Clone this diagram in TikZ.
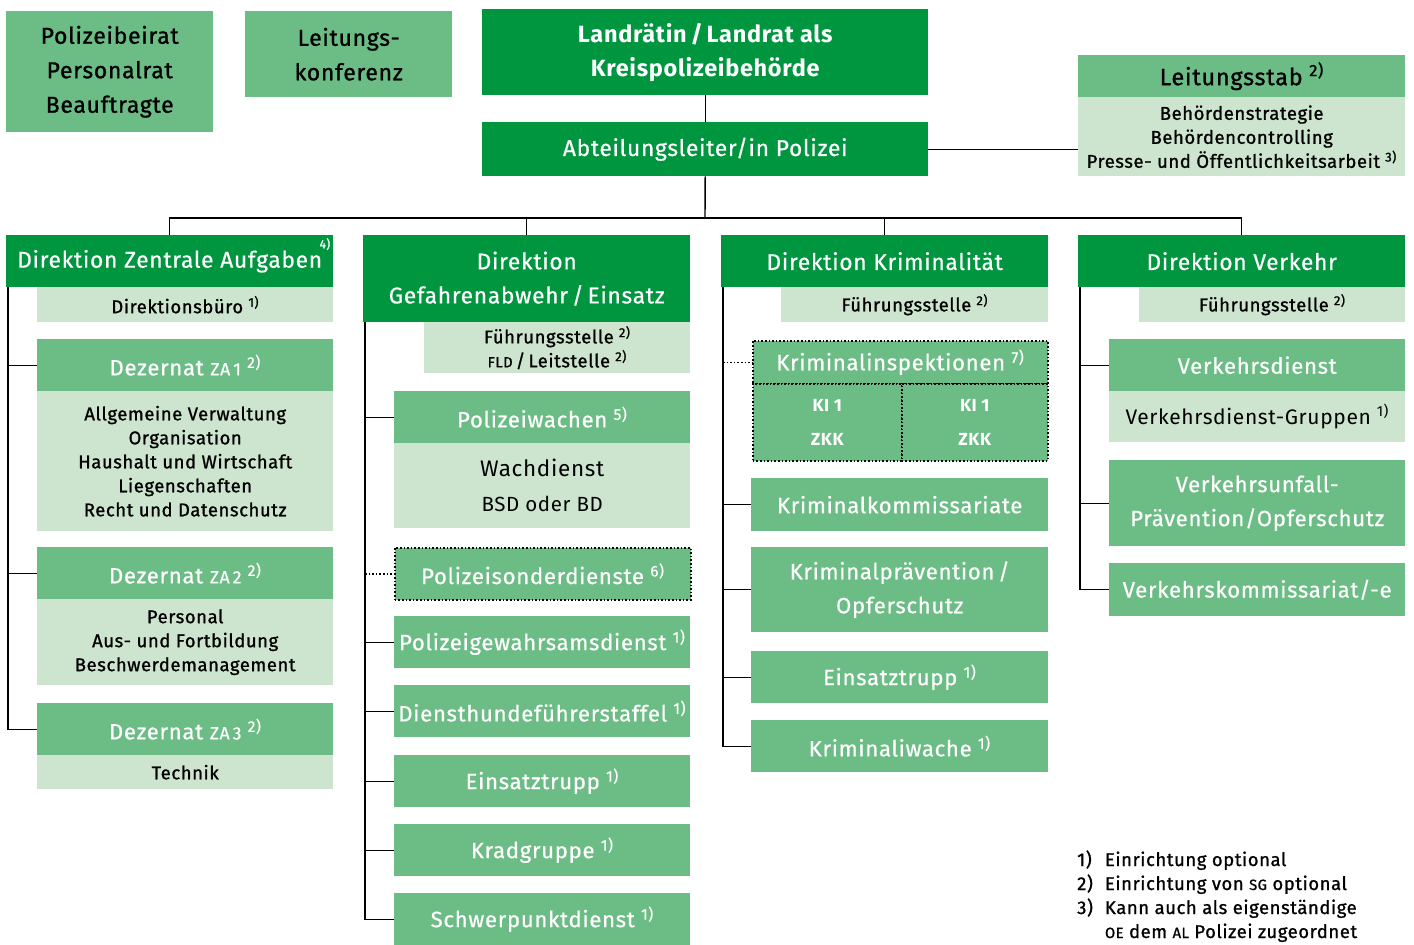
\documentclass[tikz,border=0pt]{standalone}
\usepackage{fontspec}
\setmainfont{Fira Sans}[LetterSpace=3]
\newfontface\medface{Fira Sans}[LetterSpace=3, FakeBold=1]
\newfontface\whface{Fira Sans}[LetterSpace=3, FakeBold=0.5]
\usetikzlibrary{positioning}

\definecolor{gdark}{RGB}{0,150,64}
\definecolor{gmid}{RGB}{108,189,133}
\definecolor{glight}{RGB}{205,229,207}

\makeatletter
\newcommand{\kap}[1]{{\fontsize{\fpeval{0.8*\f@size}}{\f@baselineskip}\selectfont #1}}
\makeatother
\newcommand{\fnr}[1]{\hspace{0.28em}\textsuperscript{#1)}}

\begin{document}
\begin{tikzpicture}[x=1pt, y=-1pt,
		box/.style={anchor=north west, inner sep=0pt, align=center},
		topbox/.style={box, fill=gmid, minimum width=207, font=\medface\fontsize{23}{34.5}\selectfont},
		lead/.style={box, fill=gdark, text=white, minimum width=446},
		dir/.style={box, fill=gdark, text=white, minimum width=327, font=\whface\fontsize{22.8}{34}\selectfont},
		unit/.style={box, fill=gmid, text=white, minimum width=296, minimum height=52, font=\whface\fontsize{22.2}{34}\selectfont},
		note/.style={box, fill=glight, font=\medface\fontsize{18.5}{24}\selectfont},
		optbox/.style={unit, draw, line width=1.6pt, dotted},
		link/.style={line width=1.4pt},
		dotlink/.style={line width=1.6pt, dotted}]
			\useasboundingbox (0,0) rectangle (1414,945);

			% Leitung
			\node[topbox, minimum height=121] (pb) at (6,11) {Polizeibeirat\\Personalrat\\Beauftragte};
			\node[topbox, minimum height=86] (lk) at (245,11) {Leitungs-\\konferenz};
			\node[lead, minimum height=86, font=\bfseries\fontsize{23.5}{34}\selectfont] (lr) at (482,9) {Landrätin\,/\,Landrat als\\Kreispolizeibehörde};
			\node[lead, minimum height=54, font=\whface\fontsize{22.8}{34}\selectfont] (al) at (482,122) {Abteilungsleiter/in Polizei};
			\node[box, fill=gmid, minimum width=327, minimum height=42, font=\medface\fontsize{23.5}{30}\selectfont] (lsh) at (1078,55) {Leitungsstab\fnr{2}};
			\node[note, minimum width=327, minimum height=79] (lsb) at (1078,97) {Behördenstrategie\\Behördencontrolling\\Presse- und Öffentlichkeitsarbeit\fnr{3}};

			% Direktionen
			\node[dir, minimum height=52] (dza) at (6,235) {Direktion Zentrale Aufgaben};
			\node[anchor=north east, inner sep=3pt, text=white, font=\medface\fontsize{12}{14}\selectfont] (dzafn) at (dza.north east) {4)};
			\node[dir, minimum height=87] (dga) at (363,235) {Direktion\\Gefahrenabwehr\,/\,Einsatz};
			\node[dir, minimum height=52] (dkr) at (721,235) {Direktion Kriminalität};
			\node[dir, minimum height=52] (dvk) at (1078,235) {Direktion Verkehr};

			% Zentrale Aufgaben
			\node[note, minimum width=296, minimum height=35] (dzab) at (37,287) {Direktionsbüro\fnr{1}};
			\node[unit] (za1h) at (37,339) {Dezernat \kap{ZA\,1}\fnr{2}};
			\node[note, minimum width=296, minimum height=140] (za1b) at (37,391) {Allgemeine Verwaltung\\Organisation\\Haushalt und Wirtschaft\\Liegenschaften\\Recht und Datenschutz};
			\node[unit] (za2h) at (37,547) {Dezernat \kap{ZA\,2}\fnr{2}};
			\node[note, minimum width=296, minimum height=86] (za2b) at (37,599) {Personal\\Aus- und Fortbildung\\Beschwerdemanagement};
			\node[unit] (za3h) at (37,703) {Dezernat \kap{ZA\,3}\fnr{2}};
			\node[note, minimum width=296, minimum height=34] (za3b) at (37,755) {Technik};

			% Gefahrenabwehr / Einsatz
			\node[note, minimum width=266, minimum height=51] (dgab) at (424,322) {Führungsstelle\fnr{2}\\\kap{FLD}\,/\,Leitstelle\fnr{2}};
			\node[unit] (pw) at (394,391) {Polizeiwachen\fnr{5}};
			\node[box, fill=glight, minimum width=296, minimum height=85, font=\fontsize{22.5}{35}\selectfont] (pwb) at (394,443) {Wachdienst\\{\fontsize{20.5}{35}\selectfont BSD oder BD}};
			\node[optbox] (psd) at (394,547) {Polizeisonderdienste\fnr{6}};
			\node[unit] (pgd) at (394,616) {Polizeigewahrsamsdienst\fnr{1}};
			\node[unit] (dhf) at (394,685) {Diensthundeführerstaffel\fnr{1}};
			\node[unit] (etg) at (394,755) {Einsatztrupp\fnr{1}};
			\node[unit] (krg) at (394,824) {Kradgruppe\fnr{1}};
			\node[unit] (spd) at (394,893) {Schwerpunktdienst\fnr{1}};

			% Kriminalitaet
			\node[note, minimum width=267, minimum height=35] (dkrb) at (781,287) {Führungsstelle\fnr{2}};
			\node[optbox, minimum width=295, minimum height=43] (kih) at (752,340) {Kriminalinspektionen\fnr{7}};
			\node[optbox, minimum width=149, minimum height=77, font=\bfseries\fontsize{17.5}{34}\selectfont] (kia) at (752,383) {KI 1\\ZKK};
			\node[optbox, minimum width=146, minimum height=77, font=\bfseries\fontsize{17.5}{34}\selectfont] (kib) at (901,383) {KI 1\\ZKK};
			\node[unit, minimum width=297, minimum height=53] (kk) at (751,478) {Kriminalkommissariate};
			\node[unit, minimum width=297, minimum height=85] (kp) at (751,547) {Kriminalprävention\,/\\Opferschutz};
			\node[unit, minimum width=297] (etk) at (751,651) {Einsatztrupp\fnr{1}};
			\node[unit, minimum width=297] (kw) at (751,720) {Kriminaliwache\fnr{1}};

			% Verkehr
			\node[note, minimum width=266, minimum height=35] (dvkb) at (1139,287) {Führungsstelle\fnr{2}};
			\node[unit] (vd) at (1109,339) {Verkehrsdienst};
			\node[box, fill=glight, minimum width=296, minimum height=51, font=\fontsize{21}{30}\selectfont] (vdb) at (1109,391) {Verkehrsdienst-Gruppen\fnr{1}};
			\node[unit, minimum height=86] (vu) at (1109,460) {Verkehrsunfall-\\Prävention/Opferschutz};
			\node[unit, minimum height=53] (vk) at (1109,563) {Verkehrskommissariat/-e};

			% Fussnoten
			\node[anchor=north west, inner sep=0pt, font=\medface\fontsize{18.5}{24}\selectfont] (leg) at (1077,849) {%
				\begin{tabular}{@{}l@{\hspace{12pt}}l@{}}
					1) & Einrichtung optional\\
					2) & Einrichtung von \kap{SG} optional\\
					3) & Kann auch als eigenständige\\
					   & \kap{OE} dem \kap{AL} Polizei zugeordnet
				\end{tabular}};

			% Linien
			\coordinate (bus) at (705,218);
			\draw[link] (lr.south) -- (al.north);
			\draw[link] (al.east) -- (al.east -| lsb.west);
			\draw[link] (al.south) -- (bus);
			\foreach \d in {dza,dga,dkr,dvk}
				\draw[link] (\d.north) |- (bus);
			\coordinate (s1) at ([xshift=2pt]dza.south west);
			\coordinate (s2) at ([xshift=2pt]dga.south west);
			\coordinate (s3) at ([xshift=2pt]dkr.south west);
			\coordinate (s4) at ([xshift=2pt]dvk.south west);
			\foreach \u in {za1h,za2h,za3h}
				\draw[link] (s1) |- (\u.west);
			\foreach \u in {pw,pgd,dhf,etg,krg,spd}
				\draw[link] (s2) |- (\u.west);
			\draw[dotlink] (s2 |- psd.west) -- (psd.west);
			\foreach \u in {kk,kp,etk,kw}
				\draw[link] (s3) |- (\u.west);
			\draw[dotlink] (s3 |- kih.west) -- (kih.west);
			\foreach \u in {vd,vu,vk}
				\draw[link] (s4) |- (\u.west);
		\end{tikzpicture}
\end{document}
